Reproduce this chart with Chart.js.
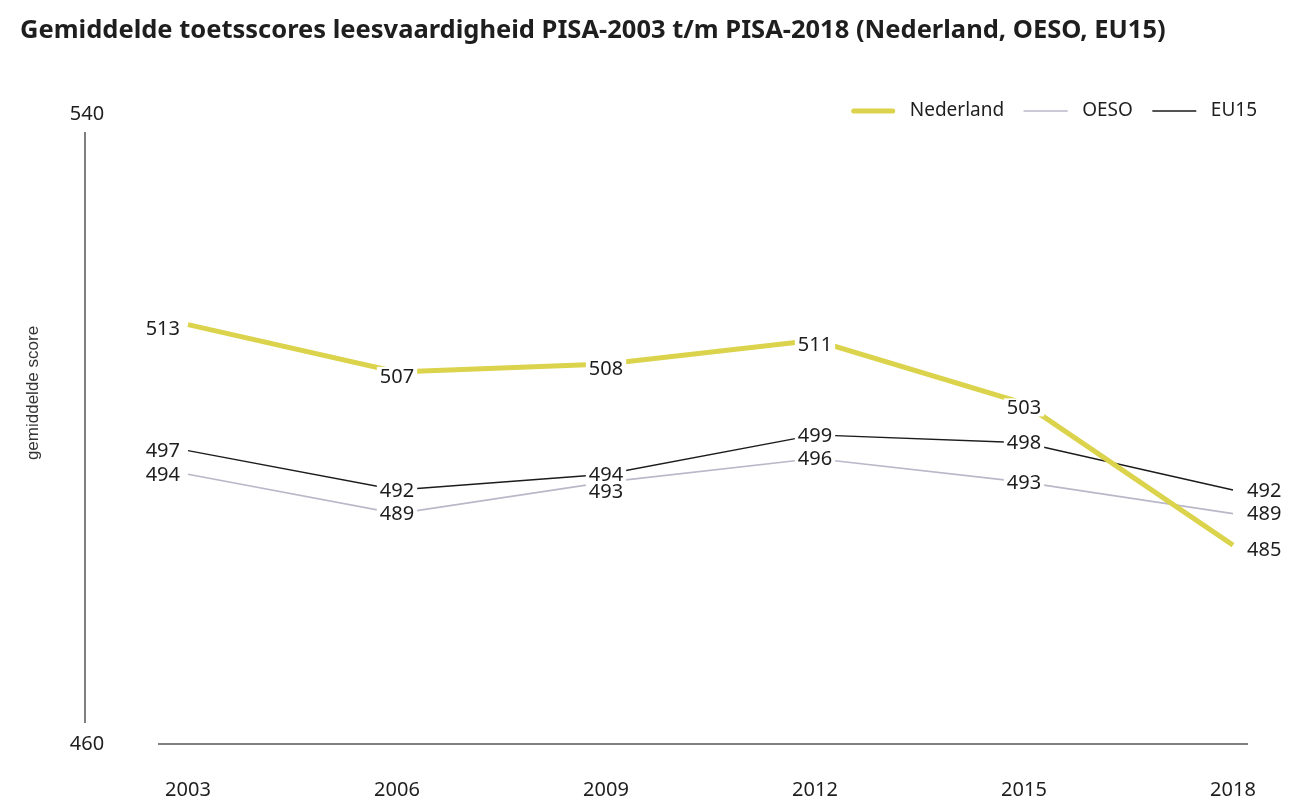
<!DOCTYPE html>
<html>
<head>
<meta charset="utf-8">
<script src="https://cdn.jsdelivr.net/npm/chart.js@4/dist/chart.umd.min.js"></script>
<style>
  html, body { margin: 0; padding: 0; background: #fff; }
  #wrap { width: 1302px; height: 811px; }
</style>
</head>
<body>
<div id="wrap"><canvas id="pisaChart" width="1302" height="811"></canvas></div>
<script>
const years = ['2003', '2006', '2009', '2012', '2015', '2018'];
const nederland = [513, 507, 508, 511, 503, 485];
const oeso = [494, 489, 493, 496, 493, 489];
const eu15 = [497, 492, 494, 499, 498, 492];
const yTickLabels = [540, 460];

const titleText = 'Gemiddelde toetsscores leesvaardigheid PISA-2003 t/m PISA-2018 (Nederland, OESO, EU15)';
const yTitle = 'gemiddelde score';
const textColor = '#1e1e1e';
const numFont = '20px "Noto Sans"';

// draws title, axes lines, tick labels, legend and value labels
const decorPlugin = {
  id: 'decor',
  afterDraw(chart) {
    const ctx = chart.ctx;
    const area = chart.chartArea;
    const x = chart.scales.x;
    const y = chart.scales.y;
    ctx.save();

    // title
    ctx.fillStyle = textColor;
    ctx.font = 'bold 25.5px "Noto Sans"';
    ctx.textAlign = 'left';
    ctx.textBaseline = 'alphabetic';
    ctx.fillText(titleText, 20, 38);

    // axis lines
    const axisX = area.left - 103;
    ctx.strokeStyle = '#555';
    ctx.lineWidth = 1.5;
    ctx.beginPath();
    ctx.moveTo(axisX, y.getPixelForValue(yTickLabels[0]) + 20);
    ctx.lineTo(axisX, y.getPixelForValue(yTickLabels[1]) - 19);
    ctx.stroke();
    ctx.beginPath();
    ctx.moveTo(area.left - 30, area.bottom + 2);
    ctx.lineTo(area.right + 15, area.bottom + 2);
    ctx.stroke();

    // tick labels
    ctx.font = numFont;
    ctx.textAlign = 'center';
    ctx.textBaseline = 'middle';
    yTickLabels.forEach(v => {
      ctx.fillText(String(v), axisX + 2, y.getPixelForValue(v) + 2);
    });
    years.forEach((yr, i) => {
      ctx.fillText(yr, x.getPixelForValue(i), area.bottom + 48);
    });

    // y title
    ctx.save();
    ctx.translate(33, area.top + 281);
    ctx.rotate(-Math.PI / 2);
    ctx.font = '17px "Liberation Sans"';
    ctx.fillStyle = '#333';
    ctx.fillText(yTitle, 0, 0);
    ctx.restore();

    // legend
    ctx.font = '19px "Noto Sans"';
    ctx.textAlign = 'left';
    const items = chart.data.datasets.map(ds => ({
      label: ds.label, color: ds.borderColor, width: ds.borderWidth,
      tw: ctx.measureText(ds.label).width
    }));
    const lineLen = 43, gapText = 15, gapItem = 20;
    let total = 0;
    items.forEach((it, i) => { total += lineLen + gapText + it.tw + (i ? gapItem : 0); });
    let lx = 1257 - total;
    const ly = 111;
    items.forEach((it, i) => {
      if (i) lx += gapItem;
      ctx.strokeStyle = it.color;
      ctx.lineWidth = it.width;
      ctx.lineCap = 'round';
      ctx.beginPath();
      ctx.moveTo(lx + (it.width > 2 ? 2 : 0), ly);
      ctx.lineTo(lx + lineLen - (it.width > 2 ? 2 : 0), ly);
      ctx.stroke();
      lx += lineLen + gapText;
      ctx.fillStyle = textColor;
      ctx.fillText(it.label, lx, ly);
      lx += it.tw;
    });

    // value labels
    ctx.font = numFont;
    ctx.lineCap = 'butt';
    const n = years.length;
    for (let i = 0; i < n; i++) {
      const labs = [];
      chart.data.datasets.forEach((ds, di) => {
        const pt = chart.getDatasetMeta(di).data[i];
        labs.push({ text: String(ds.data[i]), x: pt.x, y: pt.y + (ds.labelDy || 0) });
      });
      // push overlapping labels apart
      labs.sort((a, b) => a.y - b.y);
      for (let k = 1; k < labs.length; k++) {
        if (labs[k].y - labs[k - 1].y < 17) labs[k].y = labs[k - 1].y + 17;
      }
      labs.forEach(l => {
        const w = ctx.measureText(l.text).width;
        let tx = l.x, align = 'center';
        if (i === 0) { tx = l.x - 8; align = 'right'; }
        else if (i === n - 1) { tx = l.x + 14; align = 'left'; }
        if (align === 'center') {
          ctx.fillStyle = '#fff';
          ctx.fillRect(tx - w / 2 - 3, l.y - 9, w + 6, 18);
        }
        ctx.fillStyle = textColor;
        ctx.textAlign = align;
        ctx.fillText(l.text, tx, l.y + 1);
      });
    }
    ctx.restore();
  }
};

const ctx = document.getElementById('pisaChart').getContext('2d');
new Chart(ctx, {
  type: 'line',
  data: {
    labels: years,
    datasets: [
      { label: 'Nederland', data: nederland, borderColor: '#dad34b', borderWidth: 5, order: 0, labelDy: 4 },
      { label: 'OESO', data: oeso, borderColor: '#b9b8c9', borderWidth: 1.6, order: 1 },
      { label: 'EU15', data: eu15, borderColor: '#1c1c1c', borderWidth: 1.4, order: 2 }
    ]
  },
  options: {
    responsive: false,
    animation: false,
    devicePixelRatio: 1,
    layout: { padding: { left: 188, right: 69, top: 112, bottom: 69 } },
    elements: { point: { radius: 0, hoverRadius: 0 }, line: { tension: 0 } },
    scales: {
      x: {
        offset: false,
        grid: { display: false, drawTicks: false },
        border: { display: false },
        ticks: { display: false }
      },
      y: { display: false, min: 460, max: 540 }
    },
    plugins: { legend: { display: false }, title: { display: false }, tooltip: { enabled: false } }
  },
  plugins: [decorPlugin]
});
</script>
</body>
</html>
